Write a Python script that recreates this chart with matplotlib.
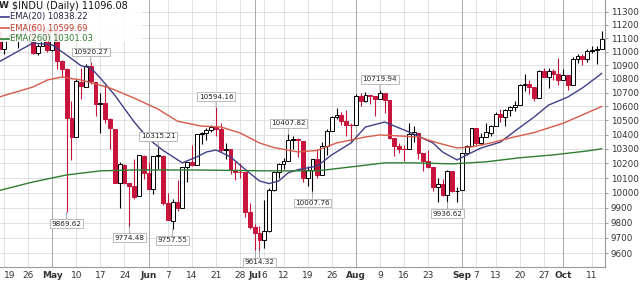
import numpy as np
import pandas as pd
import matplotlib
matplotlib.use("Agg")
import matplotlib.pyplot as plt
from matplotlib.patches import Rectangle
from matplotlib.ticker import FixedLocator, NullLocator, FixedFormatter

# ---------------------------------------------------------------
# data: $INDU daily, Apr 16 - Oct 13 2010
# ---------------------------------------------------------------
holidays = ["2010-05-31", "2010-07-05", "2010-09-06"]
dates = pd.bdate_range("2010-04-16", "2010-10-13")
dates = dates[~dates.isin(pd.to_datetime(holidays))]

opens = [11144, 11018, 11092, 11117, 11124, 11134, 11204, 11205, 10992, 11045, 11167,
         11009, 11151, 10927, 10868, 10519, 10386, 10780, 10742, 10896, 10780,
         10620, 10625, 10510, 10440, 10063, 10190, 10064, 10043, 9975, 10254,
         10136, 10025, 10248, 10254, 9932, 9813, 9940, 9900, 10172, 10212,
         10191, 10404, 10409, 10434, 10451, 10442, 10293, 10298, 10152, 10143,
         10138, 9870, 9773, 9732, 9686, 9743, 10018, 10139, 10198, 10216,
         10363, 10367, 10359, 10098, 10154, 10230, 10120, 10322, 10425, 10525,
         10537, 10498, 10466, 10466, 10674, 10636, 10680, 10675, 10654, 10698,
         10644, 10378, 10319, 10303, 10302, 10406, 10415, 10271, 10214, 10174,
         10040, 10060, 9986, 10150, 10009, 10016, 10270, 10321, 10446, 10341,
         10387, 10415, 10463, 10544, 10526, 10573, 10595, 10608, 10754, 10761,
         10739, 10664, 10860, 10812, 10858, 10835, 10789, 10830, 10752, 10945,
         10968, 10948, 11006, 11010, 11021]
highs = [11144, 11101, 11130, 11159, 11140, 11211, 11258, 11215, 11060, 11176, 11170,
         11165, 11151, 10940, 10880, 10640, 10800, 10880, 10905, 10920.27, 10780,
         10700, 10755, 10520, 10440, 10210, 10195, 10065, 10230, 10260, 10255,
         10210, 10250, 10315.21, 10255, 10000, 9960, 10087, 10173, 10212, 10325,
         10405, 10420, 10445, 10470, 10594.16, 10485, 10345, 10298, 10220, 10200,
         10138, 9930, 9790, 9775, 9950, 10030, 10140, 10200, 10240, 10407.82,
         10390, 10380, 10359, 10180, 10230, 10300, 10350, 10440, 10530, 10590,
         10560, 10575, 10480, 10690, 10700, 10705, 10685, 10675, 10719.94, 10700,
         10644, 10380, 10340, 10330, 10480, 10460, 10415, 10275, 10290, 10174,
         10100, 10090, 10155, 10150, 10040, 10270, 10325, 10450, 10446, 10410,
         10480, 10470, 10560, 10580, 10580, 10600, 10640, 10760, 10835, 10790,
         10739, 10865, 10880, 10880, 10870, 10950, 10870, 10830, 10960, 10985,
         10980, 11020, 11040, 11040, 11155]
lows = [10972, 10979, 11089, 11080, 11030, 11106, 11192, 10980, 10975, 11045, 11000,
        11008, 10870, 10810, 9869.62, 10221, 10386, 10650, 10742, 10765, 10535,
        10410, 10480, 10301, 10065, 9900, 10060, 9774.48, 9960, 9975, 10095,
        10020, 9990, 10165, 9915, 9815, 9757.55, 9880, 9900, 10072, 10185,
        10191, 10335, 10365, 10420, 10391, 10280, 10230, 10130, 10085, 10100,
        9835, 9755, 9621, 9614.32, 9635, 9737, 10010, 10100, 10160, 10216,
        10300, 10245, 10070, 10045, 10007.76, 10100, 10120, 10260, 10425, 10510,
        10470, 10390, 10350, 10466, 10600, 10630, 10620, 10530, 10650, 10550,
        10370, 10250, 10270, 10220, 10302, 10350, 10230, 10150, 10170, 10010,
        9940, 9980, 9936.62, 10005, 9941, 10016, 10260, 10321, 10330, 10330,
        10387, 10390, 10463, 10490, 10460, 10530, 10570, 10608, 10710, 10690,
        10640, 10664, 10810, 10730, 10790, 10755, 10790, 10720, 10752, 10915,
        10900, 10920, 10990, 10910, 11021]
closes = [11018.66, 11092.05, 11117.06, 11124.92, 11134.29, 11204.28, 11205.03, 10991.99,
          11045.27, 11167.32, 11008.61, 11151.83, 10926.77, 10868.12, 10520.32, 10380.43,
          10785.14, 10748.26, 10896.91, 10782.95, 10620.16, 10625.83, 10510.95, 10444.37,
          10068.01, 10193.39, 10066.57, 10043.75, 9974.45, 10258.99, 10136.63, 10024.02,
          10249.54, 10255.28, 9931.97, 9816.49, 9939.98, 9899.25, 10172.53, 10211.07,
          10190.89, 10404.77, 10409.46, 10434.17, 10450.64, 10442.41, 10293.52, 10298.44,
          10152.80, 10143.81, 10138.52, 9870.30, 9774.02, 9732.53, 9686.48, 9743.62,
          10018.28, 10138.99, 10198.03, 10216.27, 10363.02, 10366.72, 10359.31, 10097.90,
          10154.43, 10229.96, 10120.53, 10322.30, 10424.62, 10525.43, 10537.69, 10497.88,
          10467.16, 10465.94, 10674.38, 10636.38, 10680.43, 10674.98, 10653.56, 10698.75,
          10644.25, 10378.83, 10319.95, 10303.15, 10302.01, 10405.85, 10415.54, 10271.21,
          10213.62, 10174.41, 10040.45, 10060.06, 9985.81, 10150.65, 10009.73, 10014.72,
          10269.47, 10320.10, 10447.93, 10340.69, 10387.01, 10415.24, 10462.77, 10544.13,
          10526.49, 10572.73, 10594.83, 10607.85, 10753.62, 10761.03, 10739.31, 10662.42,
          10860.26, 10812.04, 10858.14, 10835.28, 10788.05, 10829.68, 10751.27, 10944.72,
          10967.65, 10948.58, 11006.48, 11010.34, 11020.40, 11096.08]

# moving averages, sampled from the drawn lines
ema20_dates = ["2010-04-16", "2010-04-27", "2010-05-03", "2010-05-06", "2010-05-11",
               "2010-05-13", "2010-05-17", "2010-05-20", "2010-05-26", "2010-06-01",
               "2010-06-04", "2010-06-10", "2010-06-15", "2010-06-17", "2010-06-21",
               "2010-06-24", "2010-06-29", "2010-07-02", "2010-07-07", "2010-07-09",
               "2010-07-13", "2010-07-15", "2010-07-21", "2010-07-26", "2010-07-30",
               "2010-08-04", "2010-08-10", "2010-08-13", "2010-08-18", "2010-08-24",
               "2010-08-26", "2010-08-31", "2010-09-02", "2010-09-08", "2010-09-14",
               "2010-09-17", "2010-09-23", "2010-09-28", "2010-10-04", "2010-10-07",
               "2010-10-13"]
ema20_vals = [10925, 11064, 11050, 10974, 10895, 10880, 10805, 10680, 10490, 10370,
              10290, 10204, 10245, 10279, 10293, 10245, 10160, 10080, 10062, 10080,
              10136, 10157, 10182, 10259, 10342, 10454, 10489, 10447, 10405, 10342,
              10279, 10224, 10259, 10307, 10348, 10425, 10525, 10610, 10668, 10733,
              10838.22]
ema60_dates = ["2010-04-16", "2010-04-27", "2010-04-30", "2010-05-05", "2010-05-11",
               "2010-05-19", "2010-05-26", "2010-06-03", "2010-06-09", "2010-06-16",
               "2010-06-22", "2010-06-28", "2010-07-02", "2010-07-08", "2010-07-15",
               "2010-07-21", "2010-07-27", "2010-08-04", "2010-08-09", "2010-08-13",
               "2010-08-19", "2010-08-25", "2010-08-31", "2010-09-03", "2010-09-10",
               "2010-09-16", "2010-09-23", "2010-10-01", "2010-10-13"]
ema60_vals = [10668, 10740, 10791, 10813, 10791, 10733, 10660, 10580, 10495, 10460,
              10454, 10412, 10342, 10310, 10279, 10290, 10342, 10384, 10398, 10391,
              10384, 10342, 10307, 10314, 10342, 10377, 10415, 10480, 10599.69]
ema260_dates = ["2010-04-16", "2010-04-27", "2010-05-06", "2010-05-17", "2010-05-26",
                "2010-06-15", "2010-07-06", "2010-07-21", "2010-07-30", "2010-08-10",
                "2010-08-18", "2010-08-30", "2010-09-09", "2010-09-20", "2010-09-29",
                "2010-10-08", "2010-10-13"]
ema260_vals = [10015, 10073, 10121, 10149, 10155, 10155, 10149, 10149, 10176, 10204,
               10204, 10197, 10211, 10239, 10259, 10286, 10301.03]

# swing high / low call-outs
ann_dates = ["2010-05-13", "2010-05-06", "2010-05-25", "2010-06-03", "2010-06-08",
             "2010-06-21", "2010-07-02", "2010-07-13", "2010-07-20", "2010-08-09",
             "2010-08-27"]
ann_vals = [10920.27, 9869.62, 9774.48, 10315.21, 9757.55, 10594.16, 9614.32,
            10407.82, 10007.76, 10719.94, 9936.62]
ann_side = ["up", "down", "down", "up", "down", "up", "down", "up", "down", "up", "down"]

tick_dates = ["2010-04-19", "2010-04-26", "2010-05-03", "2010-05-10", "2010-05-17",
              "2010-05-24", "2010-06-01", "2010-06-07", "2010-06-14", "2010-06-21",
              "2010-06-28", "2010-07-01", "2010-07-06", "2010-07-12", "2010-07-19",
              "2010-07-26", "2010-08-02", "2010-08-09", "2010-08-16", "2010-08-23",
              "2010-09-01", "2010-09-07", "2010-09-13", "2010-09-20", "2010-09-27",
              "2010-10-01", "2010-10-11"]
tick_labels = ["19", "26", "May", "10", "17", "24", "Jun", "7", "14", "21", "28", "Jul",
               "6", "12", "19", "26", "Aug", "9", "16", "23", "Sep", "7", "13", "20",
               "27", "Oct", "11"]
price_ticks = list(range(9600, 11400, 100))

# ---------------------------------------------------------------
pos = {d: i for i, d in enumerate(dates)}
def idx(ds):
    return np.array([pos[pd.Timestamp(d)] for d in ds])

RED = "#c8143c"
W, H = 640, 284
fig = plt.figure(figsize=(6.4, 2.84), dpi=100)
fig.patch.set_facecolor("white")
ax = fig.add_axes([0, 1 - 267 / H, 605 / W, 267 / H])
ax.set_yscale("log")
ax.set_xlim(0.17, 125.7)
ax.set_ylim(9511, 11390)

# grid
for p in price_ticks:
    ax.axhline(p, color="#dcdcdc", lw=0.6, zorder=0)
for d, lab in zip(tick_dates, tick_labels):
    month = not lab.isdigit()
    ax.axvline(pos[pd.Timestamp(d)], color="#a8a8a8" if month else "#dcdcdc",
               lw=0.7 if month else 0.6, zorder=0)

# candles
bw = 0.8
for i in range(len(closes)):
    o, h, l, c = opens[i], highs[i], lows[i], closes[i]
    prev = closes[i - 1] if i > 0 else o
    col = RED if c < prev else "black"
    ax.plot([i, i], [l, h], color=col, lw=0.8, zorder=2, solid_capstyle="butt")
    lo, hi = min(o, c), max(o, c)
    if hi - lo < 3:
        ax.plot([i - bw / 2, i + bw / 2], [c, c], color=col, lw=0.8, zorder=3)
        continue
    filled = c < o
    ax.add_patch(Rectangle((i - bw / 2, lo), bw, hi - lo,
                           facecolor=col if filled else "white",
                           edgecolor=col, lw=0.7, zorder=3))

# moving averages
ax.plot(idx(ema20_dates), ema20_vals, color="#3e3f85", lw=1.0, zorder=4)
ax.plot(idx(ema60_dates), ema60_vals, color="#d65a4a", lw=1.0, zorder=4)
ax.plot(idx(ema260_dates), ema260_vals, color="#2f7d2f", lw=1.0, zorder=4)

# call-outs
for d, v, s in zip(ann_dates, ann_vals, ann_side):
    dy = 7.5 if s == "up" else -8.2
    ax.annotate(f"{v:.2f}", xy=(pos[pd.Timestamp(d)], v), xytext=(0, dy),
                textcoords="offset points", ha="center", va="center",
                fontsize=5.2, color="#222222", zorder=6,
                bbox=dict(boxstyle="square,pad=0.2", fc="white", ec="#b0b0b0", lw=0.6),
                arrowprops=dict(arrowstyle="-", color="#999999", lw=0.6,
                                shrinkA=0, shrinkB=0))

# axes styling
for sp in ["left", "top"]:
    ax.spines[sp].set_visible(False)
ax.spines["right"].set_color("#9a9a9a")
ax.spines["bottom"].set_color("#9a9a9a")
ax.spines["right"].set_linewidth(0.8)
ax.spines["bottom"].set_linewidth(0.8)

ax.yaxis.tick_right()
ax.yaxis.set_major_locator(FixedLocator(price_ticks))
ax.yaxis.set_major_formatter(FixedFormatter([str(p) for p in price_ticks]))
ax.yaxis.set_minor_locator(NullLocator())
ax.tick_params(axis="y", which="major", direction="out", length=2.5, width=0.6,
               color="#888888", labelsize=6.3, labelcolor="#333333", pad=1.5)

ax.set_xticks(idx(tick_dates))
ax.set_xticklabels(tick_labels)
ax.tick_params(axis="x", length=0, labelsize=6.5, labelcolor="#333333", pad=3)
xlabels = ax.get_xticklabels()
for t, lab in zip(xlabels, tick_labels):
    if not lab.isdigit():
        t.set_fontweight("bold")
xlabels[0].set_horizontalalignment("left")
xlabels[0].set_x(xlabels[0].get_position()[0] - 0.8)

# legend block (covers the candles underneath, as on the original)
ax.add_patch(Rectangle((0, 1 - 42 / 267), 142 / 605, 42 / 267, transform=ax.transAxes,
                       facecolor="white", edgecolor="none", alpha=0.9, zorder=5))

def fx(px):
    return px / W

def fy(py):
    return 1 - py / H

fig.text(fx(-1), fy(6), "W", fontsize=6.5, fontweight="bold", va="center", ha="left",
         color="#222222", zorder=7)
fig.text(fx(12), fy(6), "$INDU (Daily) 11096.08", fontsize=7, va="center", ha="left",
         color="#111111", zorder=7)
legend_rows = [("EMA(20) 10838.22", "#3e3f85", "#222244"),
               ("EMA(60) 10599.69", "#d65a4a", "#c0392b"),
               ("EMA(260) 10301.03", "#2f7d2f", "#2f7d2f")]
for k, (txt, lc, tc) in enumerate(legend_rows):
    yy = 17 + k * 11
    fig.add_artist(plt.Line2D([fx(0), fx(9)], [fy(yy), fy(yy)], color=lc, lw=1.2,
                              zorder=7))
    fig.text(fx(10), fy(yy), txt, fontsize=6, va="center", ha="left", color=tc,
             zorder=7)

fig.savefig("out.png", dpi=100, facecolor="white")
